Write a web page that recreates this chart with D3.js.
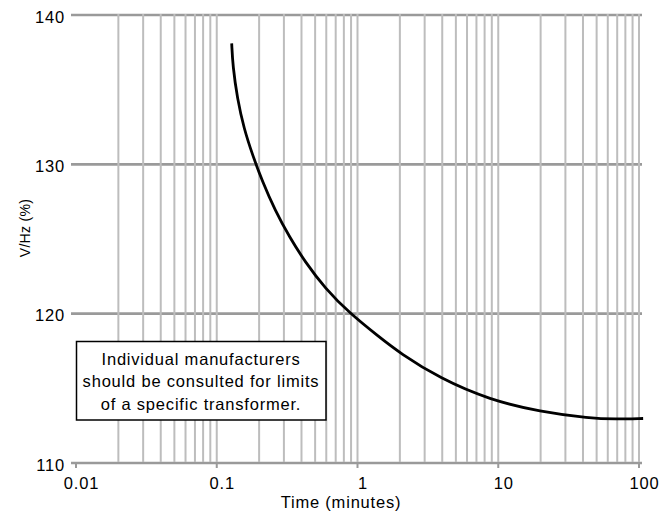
<!DOCTYPE html>
<html>
<head>
<meta charset="utf-8">
<script src="https://cdn.jsdelivr.net/npm/d3@7"></script>
<style>
  body { margin: 0; background: #fff; }
  svg { display: block; }
  text { font-family: "Liberation Sans", Arial, sans-serif; fill: #000; }
</style>
</head>
<body>
<svg id="chart" width="671" height="515"></svg>
<script>
// ---- data ----
const timeMinutes = [0.1277, 0.1300, 0.1400, 0.1560, 0.1800, 0.2100, 0.2600, 0.3300, 0.4236, 0.5875, 0.8844, 1.40, 2.005, 3.855, 8.74, 19.8, 44.9, 67.5, 107];
const vhzPercent  = [138.10, 136.60, 134.40, 132.40, 130.60, 128.90, 126.90, 125.10, 123.48, 121.70, 120.01, 118.50, 117.35, 115.66, 114.22, 113.44, 112.99, 112.93, 112.98];
const xTickValues = [0.01, 0.1, 1, 10, 100];
const xTickLabels = ["0.01", "0.1", "1", "10", "100"];
const yTickValues = [110, 120, 130, 140];
const noteLines = ["Individual manufacturers", "should be consulted for limits", "of a specific transformer."];
const xTitle = "Time (minutes)";
const yTitle = "V/Hz (%)";

const svg = d3.select("#chart");
const x = d3.scaleLog().domain([0.01, 100]).range([76, 639]);
const y = d3.scaleLinear().domain([110, 140]).range([463, 15]);
const FS = 16.5, LS = 0.8;

// horizontal gridlines
svg.append("g").selectAll("line").data(yTickValues).join("line")
  .attr("x1", x(0.01) - 5).attr("x2", x(100) + 3)
  .attr("y1", d => y(d)).attr("y2", d => y(d))
  .attr("stroke", "#9a9a9a").attr("stroke-width", 2.6);

// vertical minor gridlines (2..10 per decade)
const minor = x.ticks().filter(d => d > 0.0100001);
svg.append("g").selectAll("line").data(minor).join("line")
  .attr("x1", d => x(d)).attr("x2", d => x(d))
  .attr("y1", y(140) - 1).attr("y2", y(110) - 1)
  .attr("stroke", "#bdbdbd").attr("stroke-width", 2);

// decade ticks below axis
svg.append("g").selectAll("line").data(xTickValues).join("line")
  .attr("x1", d => x(d)).attr("x2", d => x(d))
  .attr("y1", y(110)).attr("y2", y(110) + 5)
  .attr("stroke", "#9a9a9a").attr("stroke-width", 2);

// x tick labels
svg.append("g").selectAll("text").data(xTickValues).join("text")
  .attr("x", d => x(d) + 5.5).attr("y", 489)
  .attr("text-anchor", "middle").attr("font-size", FS).attr("letter-spacing", LS)
  .text((d, i) => xTickLabels[i]);

// y tick labels
svg.append("g").selectAll("text").data(yTickValues).join("text")
  .attr("x", 65).attr("y", d => y(d) + 7.5)
  .attr("text-anchor", "end").attr("font-size", FS).attr("letter-spacing", LS)
  .text(d => d);

// axis titles
svg.append("text").attr("x", 341).attr("y", 507.5)
  .attr("text-anchor", "middle").attr("font-size", FS).attr("letter-spacing", LS).text(xTitle);
svg.append("text").attr("transform", "translate(30,228) rotate(-90)")
  .attr("text-anchor", "middle").attr("font-size", 14).attr("letter-spacing", 0.3).text(yTitle);

// curve
const line = d3.line()
  .x((d, i) => x(timeMinutes[i]))
  .y(d => y(d))
  .curve(d3.curveBasis);
svg.append("path").datum(vhzPercent)
  .attr("d", line)
  .attr("fill", "none").attr("stroke", "#000").attr("stroke-width", 2.8);

// note box
const box = svg.append("g");
box.append("rect").attr("x", 76.5).attr("y", 341.5).attr("width", 249.5).attr("height", 78.5)
  .attr("fill", "#fff").attr("stroke", "#000").attr("stroke-width", 1.5);
box.selectAll("text").data(noteLines).join("text")
  .attr("x", 201).attr("y", (d, i) => 364.5 + i * 22.5)
  .attr("text-anchor", "middle").attr("font-size", FS).attr("letter-spacing", LS)
  .text(d => d);
</script>
</body>
</html>
